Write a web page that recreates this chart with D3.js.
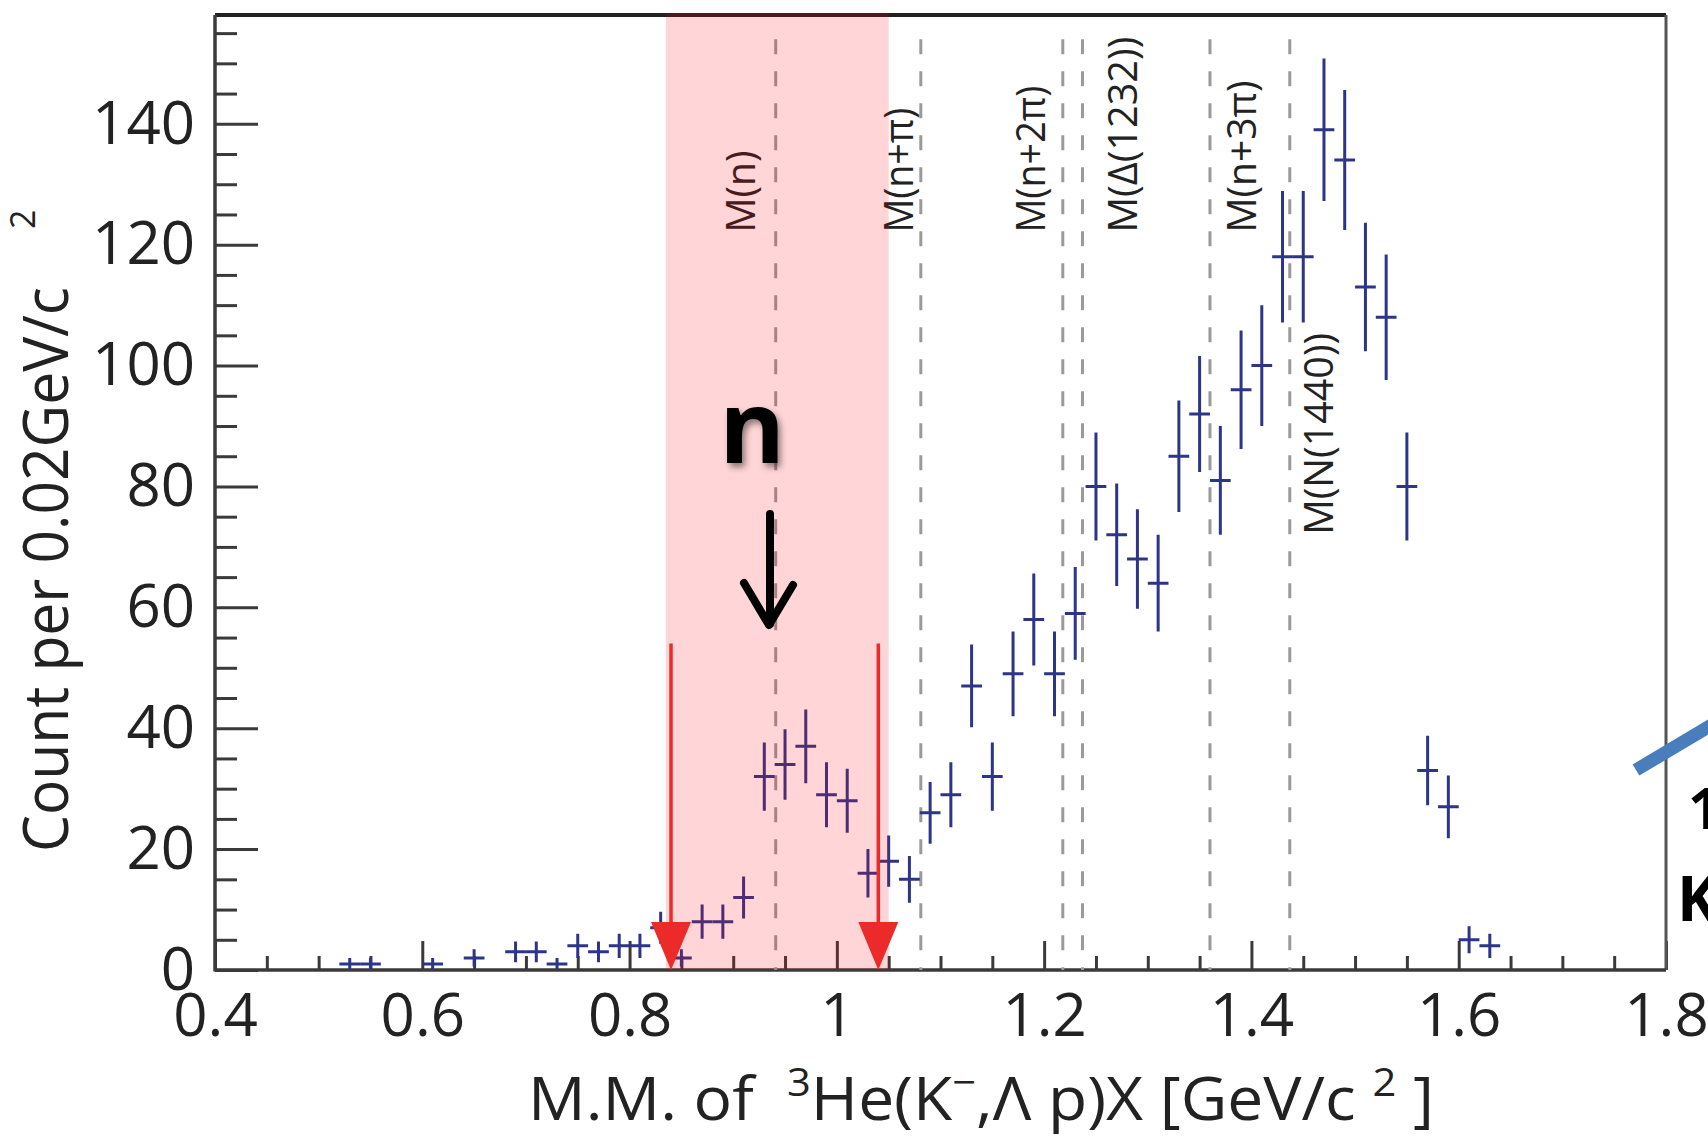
<!DOCTYPE html>
<html>
<head>
<meta charset="utf-8">
<script src="https://cdn.jsdelivr.net/npm/d3@7"></script>
<style>
  html, body { margin: 0; padding: 0; background: #fff; overflow: hidden; }
  svg { display: block; }
</style>
</head>
<body>
<svg id="chart" width="1708" height="1138"></svg>
<script>
// Missing-mass spectrum of 3He(K-, Λp)X, counts per 0.02 GeV/c^2 bin.
const binCenters = [0.53, 0.55, 0.61, 0.65, 0.69, 0.71, 0.73, 0.75, 0.77, 0.79,
                    0.81, 0.83, 0.85, 0.87, 0.89, 0.91, 0.93, 0.95, 0.97, 0.99,
                    1.01, 1.03, 1.05, 1.07, 1.09, 1.11, 1.13, 1.15, 1.17, 1.19,
                    1.21, 1.23, 1.25, 1.27, 1.29, 1.31, 1.33, 1.35, 1.37, 1.39,
                    1.41, 1.43, 1.45, 1.47, 1.49, 1.51, 1.53, 1.55, 1.57, 1.59,
                    1.61, 1.63];
const counts = [1, 1, 1, 2, 3, 3, 1, 4, 3, 4,
                4, 7, 2, 8, 8, 12, 32, 34, 37, 29,
                28, 16, 18, 15, 26, 29, 47, 32, 49, 58,
                49, 59, 80, 72, 68, 64, 85, 92, 81, 96,
                100, 118, 118, 139, 134, 113, 108, 80, 33, 27,
                5, 4];
const binHalfWidth = 0.01;

const xMajorTicks = [0.4, 0.6, 0.8, 1.0, 1.2, 1.4, 1.6, 1.8];
const xTickLabels = ["0.4", "0.6", "0.8", "1", "1.2", "1.4", "1.6", "1.8"];
const yMajorTicks = [0, 20, 40, 60, 80, 100, 120, 140];
const yTickLabels = ["0", "20", "40", "60", "80", "100", "120", "140"];

// Kinematic thresholds (dashed lines) and where their names are written
const thresholdNames = ["M(n)", "M(n+π)", "M(n+2π)", "M(Δ(1232))", "M(n+3π)", "M(N(1440))"];
const thresholdMasses = [0.941, 1.081, 1.218, 1.237, 1.360, 1.437];
const thresholdLabelX = [0.921, 1.073, 1.201, 1.290, 1.404, 1.479];
const thresholdLabelY = [122, 122, 122, 122, 122, 72];
// rendered length of each threshold name, in px
const thresholdLabelLength = [82, 125, 147, 196, 152, 202];

// Neutron-peak selection window and its edge markers
const gateRange = [0.835, 1.05];
const gateArrowX = [0.84, 1.04];
const gateArrowTop = 54;

const svg = d3.select("#chart");
const frame = { left: 215, right: 1666, top: 15, bottom: 970 };

const x = d3.scaleLinear().domain([0.4, 1.8]).range([frame.left, frame.right]);
const y = d3.scaleLinear().domain([0, 158]).range([frame.bottom, frame.top]);

const FONT = "'Open Sans', 'Noto Sans', 'DejaVu Sans', sans-serif";
const AXIS_COLOR = "#3a3a3a";
const POINT_COLOR = "#2d3588";

const defs = svg.append("defs");
const shadow = defs.append("filter").attr("id", "softShadow")
  .attr("x", "-50%").attr("y", "-50%").attr("width", "200%").attr("height", "200%");
shadow.append("feDropShadow").attr("dx", 3).attr("dy", 4)
  .attr("stdDeviation", 3).attr("flood-color", "#000").attr("flood-opacity", 0.45);

// ---- axes -------------------------------------------------------------
const minorX = d3.range(0.4, 1.8001, 0.05).filter(v => !xMajorTicks.some(m => Math.abs(m - v) < 1e-6));
const minorY = d3.range(0, 158, 5).filter(v => v % 20 !== 0);

const xAxisMinor = d3.axisBottom(x).tickValues(minorX).tickSizeInner(-14).tickSizeOuter(0).tickFormat("");
const xAxisMajor = d3.axisBottom(x).tickValues(xMajorTicks).tickSizeInner(-29).tickSizeOuter(0)
  .tickPadding(23).tickFormat((d, i) => xTickLabels[i]);
const yAxisMinor = d3.axisLeft(y).tickValues(minorY).tickSizeInner(-22).tickSizeOuter(0).tickFormat("");
const yAxisMajor = d3.axisLeft(y).tickValues(yMajorTicks).tickSizeInner(-43).tickSizeOuter(0)
  .tickPadding(20).tickFormat((d, i) => yTickLabels[i]);

function styleAxis(g) {
  g.select(".domain").remove();
  g.selectAll(".tick line").attr("stroke", AXIS_COLOR).attr("stroke-width", 3);
  g.selectAll(".tick text").attr("fill", "#222").style("font-family", FONT).style("font-size", "60px");
}

svg.append("g").attr("transform", `translate(0,${frame.bottom})`).call(xAxisMinor).call(styleAxis);
svg.append("g").attr("transform", `translate(0,${frame.bottom})`).call(xAxisMajor).call(styleAxis);
svg.append("g").attr("transform", `translate(${frame.left},0)`).call(yAxisMinor).call(styleAxis);
svg.append("g").attr("transform", `translate(${frame.left},0)`).call(yAxisMajor).call(styleAxis);

// frame
svg.append("line").attr("x1", frame.left).attr("x2", frame.right).attr("y1", frame.top).attr("y2", frame.top)
  .attr("stroke", "#222").attr("stroke-width", 4);
svg.append("line").attr("x1", frame.right).attr("x2", frame.right).attr("y1", frame.top).attr("y2", frame.bottom)
  .attr("stroke", "#555").attr("stroke-width", 3);
svg.append("line").attr("x1", frame.left).attr("x2", frame.left).attr("y1", frame.top).attr("y2", frame.bottom + 1.5)
  .attr("stroke", AXIS_COLOR).attr("stroke-width", 3.5);
svg.append("line").attr("x1", frame.left).attr("x2", frame.right).attr("y1", frame.bottom).attr("y2", frame.bottom)
  .attr("stroke", AXIS_COLOR).attr("stroke-width", 3.5);

// ---- threshold lines and names -----------------------------------------
svg.append("g").selectAll("line").data(thresholdMasses).join("line")
  .attr("x1", d => x(d)).attr("x2", d => x(d))
  .attr("y1", y(154)).attr("y2", y(0))
  .attr("stroke", "#9a9a9a").attr("stroke-width", 3).attr("stroke-dasharray", "15 17");

svg.append("g").selectAll("text").data(thresholdNames).join("text")
  .attr("transform", (d, i) => `translate(${x(thresholdLabelX[i])},${y(thresholdLabelY[i])}) rotate(-90)`)
  .attr("text-anchor", "start")
  .attr("textLength", (d, i) => thresholdLabelLength[i])
  .attr("lengthAdjust", "spacingAndGlyphs")
  .attr("fill", "#222")
  .style("font-family", FONT).style("font-size", "41px")
  .text(d => d);

// ---- data with error bars ---------------------------------------------
const points = binCenters.map((c, i) => ({ c, n: counts[i] }));
const pts = svg.append("g").attr("stroke", POINT_COLOR).attr("stroke-width", 3).attr("fill", "none");
pts.selectAll("path").data(points).join("path")
  .attr("d", d => {
    const e = Math.sqrt(d.n);
    return `M${x(d.c - binHalfWidth)},${y(d.n)}H${x(d.c + binHalfWidth)}` +
           `M${x(d.c)},${y(d.n - e)}V${y(d.n + e)}`;
  });

// ---- selection window overlay --------------------------------------------
svg.append("rect")
  .attr("x", x(gateRange[0])).attr("width", x(gateRange[1]) - x(gateRange[0]))
  .attr("y", frame.top - 2).attr("height", frame.bottom - frame.top + 2)
  .attr("fill", "rgb(255,0,12)").attr("fill-opacity", 0.165);

// red edge markers
const red = "#ec2a2a";
const arrows = svg.append("g");
arrows.selectAll("line").data(gateArrowX).join("line")
  .attr("x1", d => x(d)).attr("x2", d => x(d))
  .attr("y1", y(gateArrowTop)).attr("y2", y(0) - 40)
  .attr("stroke", red).attr("stroke-width", 3.5);
arrows.selectAll("path").data(gateArrowX).join("path")
  .attr("d", d => `M${x(d)},${y(0)}L${x(d) - 20},${y(0) - 48}L${x(d) + 20},${y(0) - 48}Z`)
  .attr("fill", red);

// ---- "n" annotation ------------------------------------------------------
svg.append("text")
  .attr("x", 752).attr("y", 463)
  .attr("text-anchor", "middle")
  .attr("filter", "url(#softShadow)")
  .style("font-family", FONT).style("font-weight", 700).style("font-size", "100px")
  .attr("fill", "#000")
  .text("n");

const blk = svg.append("g").attr("stroke", "#000").attr("stroke-width", 8)
  .attr("stroke-linecap", "round").attr("stroke-linejoin", "round").attr("fill", "none");
blk.append("line").attr("x1", 770).attr("x2", 770).attr("y1", 514).attr("y2", 624);
blk.append("path").attr("d", "M744,583L769,625L793,585");

// ---- side annotation (partly off the page) -------------------------------
svg.append("line").attr("x1", 1636).attr("y1", 770).attr("x2", 1730).attr("y2", 714)
  .attr("stroke", "#4a7dbb").attr("stroke-width", 13);
svg.append("text").attr("x", 1688).attr("y", 829)
  .style("font-family", FONT).style("font-weight", 700).style("font-size", "58px").attr("fill", "#000")
  .text("1");
svg.append("text").attr("x", 1677).attr("y", 921)
  .style("font-family", FONT).style("font-weight", 700).style("font-size", "62px").attr("fill", "#000")
  .text("K");

// ---- axis titles -----------------------------------------------------------
function fitWidth(textSel, target) {
  const w = textSel.node().getBBox().width;
  return target / w;
}

// x title with superscripts
const xt = svg.append("text").attr("x", 0).attr("y", 0)
  .attr("xml:space", "preserve").style("white-space", "pre")
  .style("font-family", FONT).style("font-size", "60px").attr("fill", "#222");
xt.append("tspan").text("M.M. of  ");
xt.append("tspan").style("font-size", "39px").attr("dy", -24).text("3");
xt.append("tspan").attr("dy", 24).text("He(K");
xt.append("tspan").style("font-size", "39px").attr("dy", -24).text("−");
xt.append("tspan").attr("dy", 24).text(",Λ p)X [GeV/c ");
xt.append("tspan").style("font-size", "39px").attr("dy", -24).text("2");
xt.append("tspan").attr("dy", 24).text(" ]");
const xs = fitWidth(xt, 906);
xt.attr("transform", `translate(528,1120) scale(${xs},1)`);

// y title
const yt = svg.append("text").attr("x", 0).attr("y", 0)
  .style("font-family", FONT).style("font-size", "62px").attr("fill", "#222")
  .text("Count per 0.02GeV/c");
const ys = fitWidth(yt, 565);
yt.attr("transform", `translate(68,852) rotate(-90) scale(${ys},1)`);
svg.append("text")
  .attr("transform", "translate(35,229) rotate(-90)")
  .style("font-family", FONT).style("font-size", "34px").attr("fill", "#222")
  .text("2");
</script>
</body>
</html>
